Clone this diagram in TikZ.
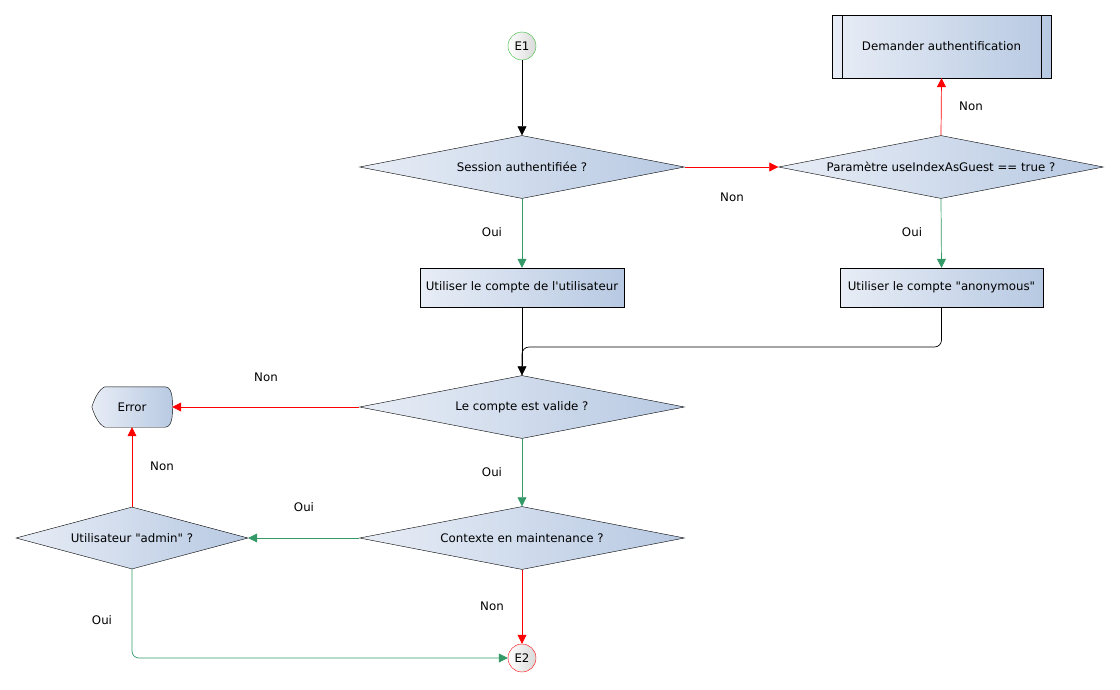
\documentclass[tikz,border=0pt]{standalone}
\usepackage{fontspec}
\setmainfont{DejaVu Sans}[Ligatures=TeXOff]
\usetikzlibrary{shapes.geometric,arrows.meta}
\definecolor{gl}{HTML}{E8EDF6}
\definecolor{gd}{HTML}{B7C9E2}
\definecolor{okg}{HTML}{339966}
\definecolor{sg}{HTML}{33BB33}
\tikzset{
  every node/.style={font=\fontsize{11.8}{14}\selectfont},
  grad/.style={left color=gl, right color=gd},
  dec/.style={diamond, draw=black, grad, inner sep=0pt, minimum width=325pt, minimum height=63pt, shape aspect=5},
  proc/.style={rectangle, draw=black, grad, inner sep=0pt, minimum height=39pt},
  term/.style={circle, draw, left color=white, right color=gray!30, minimum size=28pt, inner sep=0pt},
  arr/.style={-{Triangle[length=9pt,width=9pt]}, line width=0.7pt},
  yes/.style={arr, draw=okg, -{Triangle[length=9pt,width=9pt,fill=okg]}},
  no/.style={arr, draw=red, -{Triangle[length=9pt,width=9pt,fill=red]}},
  lbl/.style={inner sep=0pt}
}
\begin{document}
\begin{tikzpicture}[x=1pt,y=-1pt]
\useasboundingbox (0,0) rectangle (1120,689);
\node[term, draw=sg] (e1) at (522,46) {E1};
\node[dec] (sess) at (522,167) {Session authentifiée ?};
\node[dec] (param) at (941,167) {Paramètre useIndexAsGuest == true ?};
\node[proc, minimum width=219pt, minimum height=63pt] (dem) at (941.5,46.5) {Demander authentification};
\draw ([xshift=10pt]dem.north west) -- ([xshift=10pt]dem.south west);
\draw ([xshift=-10pt]dem.north east) -- ([xshift=-10pt]dem.south east);
\node[proc, minimum width=204pt] (useu) at (522,287.5) {Utiliser le compte de l'utilisateur};
\node[proc, minimum width=203pt] (anon) at (941.5,287.5) {Utiliser le compte "anonymous"};
\node[dec] (valid) at (522,407) {Le compte est valide ?};
\node[inner sep=0pt, minimum width=80pt, minimum height=40pt] (err) at (132,407) {};
\draw[grad] ([xshift=13pt]err.north west) -- ([xshift=-7pt]err.north east)
  .. controls ([xshift=2pt]err.north east) and ([xshift=0pt]err.east) .. (err.east)
  .. controls ([xshift=0pt]err.east) and ([xshift=2pt]err.south east) .. ([xshift=-7pt]err.south east)
  -- ([xshift=13pt]err.south west)
  .. controls ([xshift=6pt,yshift=3pt]err.south west) and ([xshift=2pt,yshift=-6pt]err.west) .. (err.west)
  .. controls ([xshift=2pt,yshift=6pt]err.west) and ([xshift=6pt,yshift=-3pt]err.north west) .. cycle;
\node[inner sep=0pt] (errt) at (err) {Error};
\node[dec] (ctx) at (522,538) {Contexte en maintenance ?};
\node[dec, minimum width=232pt, minimum height=62pt] (admin) at (132,538) {Utilisateur "admin" ?};
\node[term, draw=red] (e2) at (522,658) {E2};
\coordinate (j) at (522,347);
\draw[arr] (e1) -- (sess);
\draw[no] (sess.east) -- (param.west);
\draw[no] (param.north) -- (dem.south);
\draw[yes] (sess.south) -- (useu.north);
\draw[yes] (param.south) -- (anon.north);
\draw[arr] (useu.south) -- (valid.north);
\draw[line width=0.7pt, rounded corners=7pt] (anon.south) |- (j) -- (valid.north);
\draw[no] (valid.west) -- (err.east);
\draw[yes] (valid.south) -- (ctx.north);
\draw[yes] (ctx.west) -- (admin.east);
\draw[no] (admin.north) -- (err.south);
\draw[no] (ctx.south) -- (e2.north);
\draw[yes, rounded corners=7pt] (admin.south) |- (e2.west);
\node[lbl] at (732,197) {Non};
\node[lbl] at (971,106) {Non};
\node[lbl] at (492,232) {Oui};
\node[lbl] at (912,232) {Oui};
\node[lbl] at (266,377) {Non};
\node[lbl] at (492,472) {Oui};
\node[lbl] at (304,507) {Oui};
\node[lbl] at (162,466) {Non};
\node[lbl] at (492,606) {Non};
\node[lbl] at (102,620) {Oui};
\end{tikzpicture}
\end{document}
